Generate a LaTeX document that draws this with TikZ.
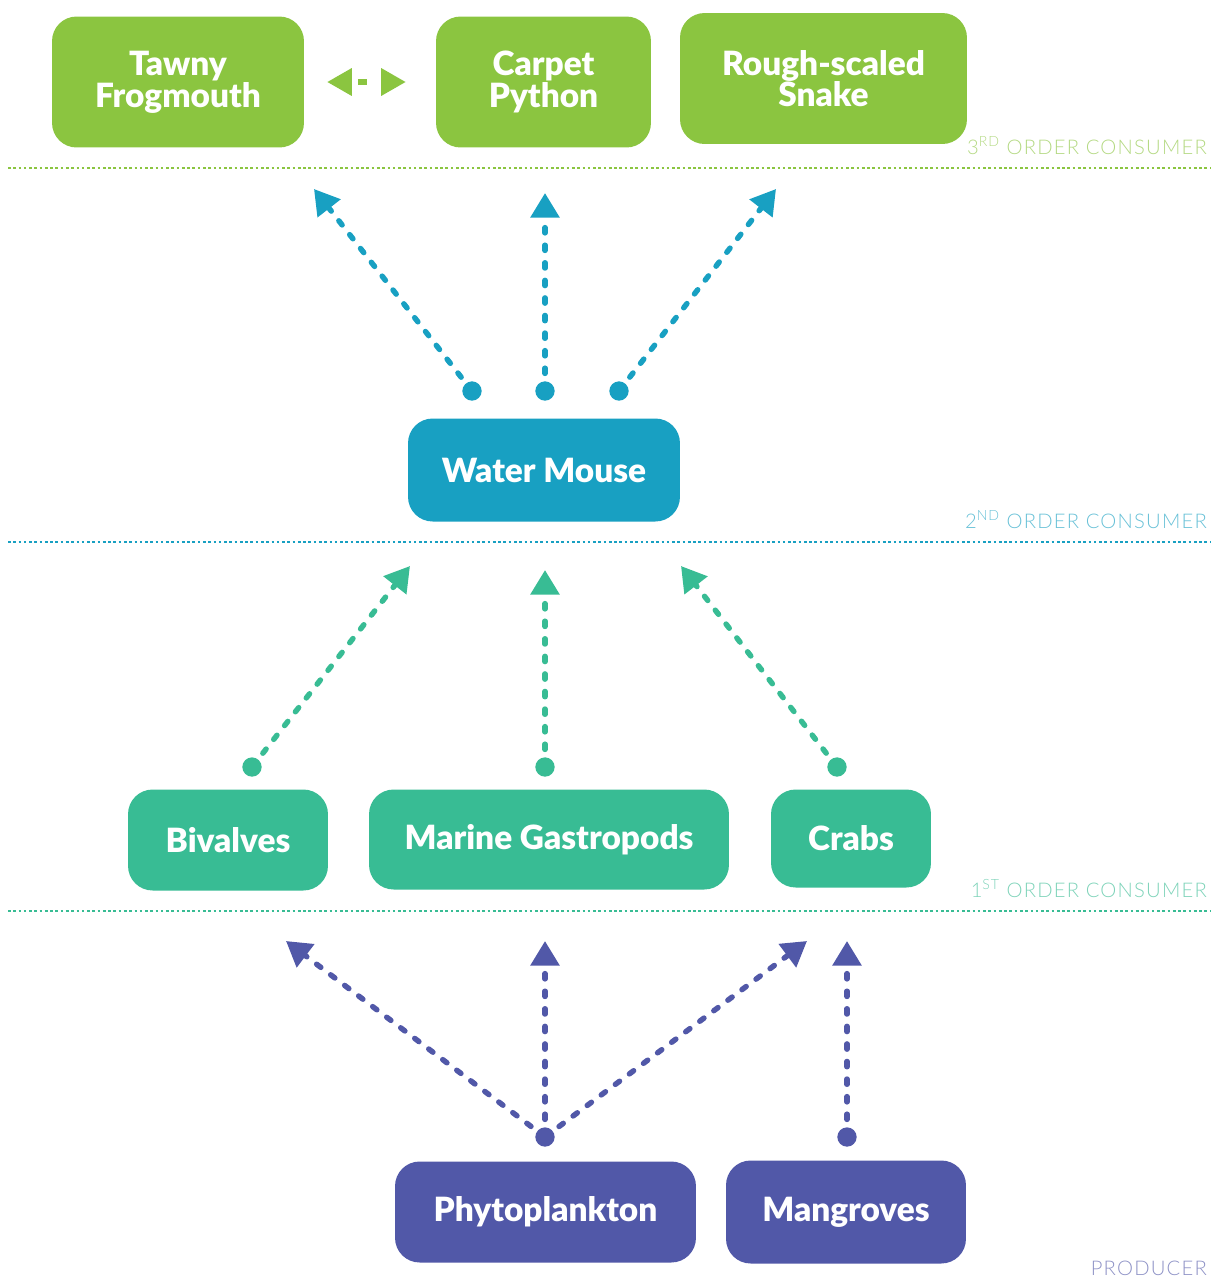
\documentclass[tikz,border=0pt]{standalone}
\usepackage{fontspec}
\setmainfont{Lato}[BoldFont={Lato Black}]
\newfontfamily\levelfont{Lato Light}[LetterSpace=6]
\usetikzlibrary{arrows.meta}
\definecolor{topgreen}{HTML}{8BC540}
\definecolor{mouseblue}{HTML}{18A0C2}
\definecolor{firstteal}{HTML}{38BC94}
\definecolor{prodpurple}{HTML}{5158A8}
\tikzset{
  box/.style={rounded corners=14pt, inner sep=0pt, text=white, align=center,
    font=\bfseries\fontsize{19}{18}\selectfont},
  sepline/.style={line width=0.6pt, dash pattern=on 1.5pt off 1.5pt},
  level/.style={anchor=base east, font=\levelfont\fontsize{11.5}{11.5}\selectfont},
  flow/.style={line width=3.1pt, line cap=round, dash pattern=on 3pt off 7pt,
    shorten <=10pt, -{Triangle[length=14pt,width=16pt]}},
  pair/.style={line width=3pt, line cap=butt, dash pattern=on 0pt off 4.5pt on 5pt off 40pt,
    {Triangle[length=14pt,width=15pt]}-{Triangle[length=14pt,width=15pt]},
    shorten <=13pt, shorten >=17pt}
}
\begin{document}
\begin{tikzpicture}[x=0.02cm,y=-0.02cm]
\useasboundingbox (0,0) rectangle (1222,1286);

% 3rd order
\node[box,fill=topgreen,minimum width=5.04cm,minimum height=2.62cm] (tf) at (178,82) {Tawny\\Frogmouth};
\node[box,fill=topgreen,minimum width=4.3cm,minimum height=2.62cm] (cp) at (543.5,82) {Carpet\\Python};
\node[box,fill=topgreen,minimum width=5.74cm,minimum height=2.62cm] (rs) at (823.5,78.5) {Rough-scaled\\Snake};
\draw[pair,topgreen] (tf) -- (cp);
\draw[sepline,topgreen] (8,168) -- (1210,168);
\node[level,text=topgreen!65!white] (l3) at (1213,154) {3\textsuperscript{RD} ORDER CONSUMER};

% 2nd order
\node[box,fill=mouseblue,minimum width=5.44cm,minimum height=2.06cm] (wm) at (544,470) {Water Mouse};
\draw[sepline,mouseblue] (8,542) -- (1210,542);
\node[level,text=mouseblue!65!white] (l2) at (1213,528) {2\textsuperscript{ND} ORDER CONSUMER};

% 1st order
\node[box,fill=firstteal,minimum width=4.0cm,minimum height=2.02cm] (bv) at (228,840) {Bivalves};
\node[box,fill=firstteal,minimum width=7.2cm,minimum height=2.0cm] (mg) at (549,839.5) {Marine Gastropods};
\node[box,fill=firstteal,minimum width=3.2cm,minimum height=1.96cm] (cr) at (851,838.5) {Crabs};
\draw[sepline,firstteal] (8,911) -- (1210,911);
\node[level,text=firstteal!65!white] (l1) at (1213,897) {1\textsuperscript{ST} ORDER CONSUMER};

% producers
\node[box,fill=prodpurple,minimum width=6.02cm,minimum height=2.02cm] (ph) at (545.5,1212) {Phytoplankton};
\node[box,fill=prodpurple,minimum width=4.8cm,minimum height=2.06cm] (mn) at (846,1212) {Mangroves};
\node[level,text=prodpurple!65!white] (l0) at (1213,1275) {PRODUCER};

% arrow ends
\coordinate (wm1) at (472,391);
\coordinate (wm2) at (545,391);
\coordinate (wm3) at (619,391);
\coordinate (tf-in) at (314,189);
\coordinate (cp-in) at (545,193);
\coordinate (rs-in) at (776,189);
\coordinate (bv1) at (252,767);
\coordinate (mg1) at (545,767);
\coordinate (cr1) at (837,767);
\coordinate (wm-in1) at (410,566);
\coordinate (wm-in2) at (545,570);
\coordinate (wm-in3) at (681,566);
\coordinate (ph1) at (545,1137);
\coordinate (mn1) at (847,1137);
\coordinate (bv-in) at (286,941);
\coordinate (mg-in) at (545,941);
\coordinate (cr-in1) at (807,941);
\coordinate (cr-in2) at (847,941);

\foreach \s/\e in {wm1/tf-in, wm2/cp-in, wm3/rs-in} {
  \fill[mouseblue] (\s) circle (5.5pt);
  \draw[flow,mouseblue] (\s) -- (\e);
}
\foreach \s/\e in {bv1/wm-in1, mg1/wm-in2, cr1/wm-in3} {
  \fill[firstteal] (\s) circle (5.5pt);
  \draw[flow,firstteal] (\s) -- (\e);
}
\fill[prodpurple] (ph1) circle (5.5pt);
\fill[prodpurple] (mn1) circle (5.5pt);
\foreach \s/\e in {ph1/bv-in, ph1/mg-in, ph1/cr-in1, mn1/cr-in2}
  \draw[flow,prodpurple] (\s) -- (\e);
\end{tikzpicture}
\end{document}
